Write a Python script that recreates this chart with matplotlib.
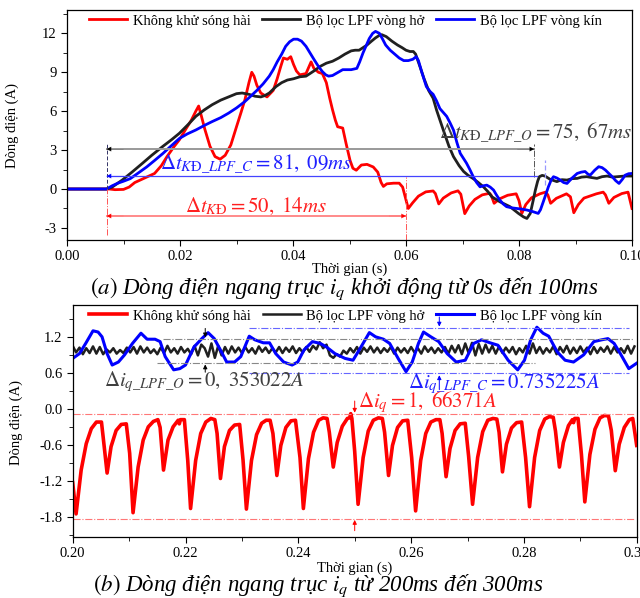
import matplotlib
matplotlib.use("Agg")
import matplotlib.pyplot as plt
import matplotlib.ticker as mticker
import numpy as np

plt.rcParams.update({
    "font.family": "serif",
    "font.serif": ["Liberation Serif", "DejaVu Serif"],
    "mathtext.fontset": "stix",
    "axes.unicode_minus": False,
    "font.size": 10,
    "axes.linewidth": 0.9,
    "xtick.direction": "out",
    "ytick.direction": "out",
    "xtick.major.size": 4,
    "ytick.major.size": 4,
    "xtick.minor.size": 3,
    "ytick.minor.size": 3,
    "xtick.minor.visible": True,
    "ytick.minor.visible": True,
})

C_RED = "#ff0000"
C_BLK = "#202020"
C_BLU = "#0000ff"

LABELS = ["Không khử sóng hài", "Bộ lọc LPF vòng hở", "Bộ lọc LPF vòng kín"]

# ── (a) start-up, 0 .. 100 ms ───────────────────────────────────────────
red_a = [
    (0.0000, 0.00), (0.0075, 0.00), (0.0085, -0.05), (0.0100, -0.03), (0.0110, 0.15),
    (0.0120, 0.50), (0.0135, 0.80), (0.0155, 1.20), (0.0167, 1.80), (0.0177, 2.50),
    (0.0190, 3.30), (0.0199, 3.80), (0.0210, 4.60), (0.0220, 5.30), (0.0228, 6.00),
    (0.0233, 6.40), (0.0238, 5.60), (0.0244, 4.60), (0.0253, 3.30), (0.0262, 2.50),
    (0.0271, 2.30), (0.0280, 2.60), (0.0290, 3.40), (0.0300, 4.80), (0.0308, 5.90),
    (0.0315, 6.90), (0.0322, 8.20), (0.0327, 9.00), (0.0331, 8.70), (0.0336, 8.00),
    (0.0343, 7.40), (0.0354, 7.10), (0.0365, 7.60), (0.0372, 8.50), (0.0378, 9.40),
    (0.0383, 10.10), (0.0390, 10.00), (0.0396, 10.20), (0.0401, 9.60), (0.0406, 9.10),
    (0.0412, 8.80), (0.0423, 8.90), (0.0428, 9.40), (0.0432, 9.80), (0.0437, 9.30),
    (0.0445, 9.00), (0.0452, 8.90), (0.0459, 8.20), (0.0465, 7.00), (0.0470, 6.10),
    (0.0475, 5.30), (0.0479, 4.80), (0.0488, 4.70), (0.0494, 3.50), (0.0501, 2.20),
    (0.0506, 1.60), (0.0512, 1.45), (0.0521, 1.85), (0.0531, 1.90), (0.0542, 1.70),
    (0.0550, 1.30), (0.0556, 0.50), (0.0560, 0.20), (0.0566, 0.40), (0.0578, 0.45),
    (0.0588, 0.45), (0.0594, 0.15), (0.0604, -1.50), (0.0612, -1.05), (0.0622, -0.55),
    (0.0635, -0.22), (0.0648, -0.15), (0.0652, -0.35), (0.0658, -1.15), (0.0666, -0.70),
    (0.0680, -0.30), (0.0692, -0.14), (0.0697, -0.40), (0.0704, -1.90), (0.0712, -1.30),
    (0.0722, -0.80), (0.0735, -0.45), (0.0748, -0.33), (0.0751, -0.50), (0.0756, -1.10),
    (0.0766, -0.75), (0.0780, -0.48), (0.0795, -0.37), (0.0800, -0.90), (0.0805, -1.88),
    (0.0812, -1.20), (0.0822, -0.68), (0.0837, -0.37), (0.0847, -0.24), (0.0851, -0.45),
    (0.0856, -1.10), (0.0866, -0.72), (0.0884, -0.37), (0.0891, -0.60), (0.0897, -1.83),
    (0.0905, -1.20), (0.0915, -0.70), (0.0937, -0.37), (0.0949, -0.24), (0.0953, -0.45),
    (0.0959, -1.10), (0.0968, -0.65), (0.0982, -0.35), (0.0993, -0.24), (0.1000, -1.50),
]

black_a = [
    (0.0000, 0.00), (0.0070, 0.00), (0.0080, 0.15), (0.0098, 0.70), (0.0115, 1.30),
    (0.0134, 2.00), (0.0150, 2.60), (0.0170, 3.30), (0.0185, 3.80), (0.0199, 4.30),
    (0.0215, 5.00), (0.0228, 5.60), (0.0243, 6.10), (0.0257, 6.50), (0.0272, 6.85),
    (0.0286, 7.10), (0.0300, 7.35), (0.0310, 7.40), (0.0322, 7.30), (0.0333, 7.15),
    (0.0343, 7.10), (0.0350, 7.20), (0.0358, 7.40), (0.0370, 7.90), (0.0380, 8.20),
    (0.0390, 8.40), (0.0401, 8.50), (0.0412, 8.65), (0.0423, 8.70), (0.0430, 8.90),
    (0.0437, 9.10), (0.0448, 9.45), (0.0459, 9.70), (0.0470, 9.85), (0.0481, 10.10),
    (0.0492, 10.40), (0.0503, 10.65), (0.0510, 10.70), (0.0517, 10.70), (0.0524, 10.90),
    (0.0531, 11.10), (0.0539, 11.40), (0.0546, 11.65), (0.0553, 11.85), (0.0557, 11.90),
    (0.0565, 11.75), (0.0575, 11.40), (0.0585, 11.10), (0.0593, 10.90), (0.0600, 10.70),
    (0.0607, 10.60), (0.0613, 10.60), (0.0617, 10.40), (0.0625, 9.40), (0.0632, 8.50),
    (0.0640, 7.60), (0.0648, 7.00), (0.0654, 6.10), (0.0666, 4.55), (0.0676, 3.30),
    (0.0684, 2.50), (0.0694, 1.80), (0.0702, 1.35), (0.0710, 1.05), (0.0719, 0.80),
    (0.0728, 0.50), (0.0737, 0.17), (0.0745, -0.20), (0.0752, -0.60), (0.0766, -0.98),
    (0.0784, -1.36), (0.0799, -1.88), (0.0808, -2.15), (0.0814, -2.27), (0.0820, -1.88),
    (0.0825, -0.90), (0.0829, -0.08), (0.0833, 0.60), (0.0836, 0.95), (0.0841, 1.05),
    (0.0846, 1.00), (0.0855, 0.75), (0.0867, 0.57), (0.0876, 0.72), (0.0885, 0.69),
    (0.0894, 0.80), (0.0903, 0.82), (0.0911, 0.92), (0.0920, 0.95), (0.0929, 0.88),
    (0.0938, 0.82), (0.0947, 0.95), (0.0956, 1.00), (0.0965, 0.92), (0.0974, 0.95),
    (0.0987, 1.00), (0.1000, 1.00),
]

blue_a = [
    (0.0000, 0.00), (0.0070, 0.00), (0.0080, 0.25), (0.0090, 0.45), (0.0100, 0.60),
    (0.0112, 0.80), (0.0125, 1.20), (0.0141, 1.70), (0.0155, 2.20), (0.0170, 2.75),
    (0.0185, 3.35), (0.0199, 3.90), (0.0213, 4.25), (0.0228, 4.55), (0.0243, 4.90),
    (0.0257, 5.20), (0.0272, 5.50), (0.0286, 5.85), (0.0300, 6.25), (0.0315, 6.75),
    (0.0325, 7.15), (0.0336, 7.60), (0.0347, 8.10), (0.0358, 8.70), (0.0365, 9.20),
    (0.0372, 9.80), (0.0380, 10.40), (0.0387, 11.00), (0.0394, 11.35), (0.0401, 11.55),
    (0.0408, 11.55), (0.0415, 11.40), (0.0423, 11.00), (0.0430, 10.50), (0.0437, 10.00),
    (0.0445, 9.45), (0.0452, 9.05), (0.0458, 8.80), (0.0463, 8.70), (0.0470, 8.75),
    (0.0480, 9.00), (0.0488, 9.20), (0.0496, 9.20), (0.0503, 9.20), (0.0513, 9.30),
    (0.0518, 9.80), (0.0524, 10.50), (0.0530, 11.10), (0.0535, 11.60), (0.0541, 12.00),
    (0.0546, 12.15), (0.0553, 12.00), (0.0558, 11.60), (0.0564, 11.10), (0.0572, 10.70),
    (0.0580, 10.40), (0.0588, 10.10), (0.0596, 9.90), (0.0604, 9.90), (0.0612, 10.00),
    (0.0618, 10.20), (0.0622, 9.90), (0.0628, 9.00), (0.0636, 7.90), (0.0643, 7.50),
    (0.0648, 7.30), (0.0654, 6.80), (0.0660, 6.20), (0.0666, 5.90), (0.0672, 5.60),
    (0.0678, 5.10), (0.0684, 4.55), (0.0690, 3.60), (0.0696, 2.75), (0.0707, 2.00),
    (0.0713, 1.50), (0.0719, 0.95), (0.0725, 0.50), (0.0731, 0.17), (0.0737, 0.25),
    (0.0743, 0.30), (0.0749, 0.15), (0.0755, -0.08), (0.0760, -0.45), (0.0766, -0.85),
    (0.0772, -1.15), (0.0778, -1.36), (0.0787, -1.45), (0.0796, -1.50), (0.0805, -1.55),
    (0.0814, -1.62), (0.0825, -1.75), (0.0834, -1.88), (0.0838, -1.60), (0.0843, -0.98),
    (0.0848, -0.35), (0.0852, 0.17), (0.0857, 0.70), (0.0861, 0.95), (0.0867, 0.85),
    (0.0873, 0.69), (0.0879, 0.50), (0.0885, 0.43), (0.0894, 0.85), (0.0903, 1.20),
    (0.0910, 1.30), (0.0917, 1.35), (0.0922, 1.15), (0.0926, 1.07), (0.0934, 1.45),
    (0.0941, 1.72), (0.0947, 1.65), (0.0953, 1.46), (0.0959, 1.20), (0.0965, 0.95),
    (0.0971, 0.65), (0.0977, 0.43), (0.0983, 0.75), (0.0988, 1.07), (0.0994, 1.18),
    (0.1000, 1.20),
]

# annotation readings, panel (a)
T_START = 0.0070      # start of motor start-up
T_END_KD = 0.0600     # end, no harmonic suppression
T_END_O = 0.0827      # end, open-loop LPF
T_END_C = 0.0846      # end, closed-loop LPF
Y_ARROW_O, Y_ARROW_C, Y_ARROW_KD = 3.08, 1.0, -2.08

# ── (b) steady state, 200 .. 300 ms ─────────────────────────────────────
red_b = [
    (0.2000, -1.22), (0.2006, -1.74),
    (0.2015, -1.01), (0.2024, -0.57), (0.2033, -0.32), (0.2042, -0.21), (0.2051, -0.21), (0.2054, -0.46), (0.2061, -1.06),
    (0.2068, -0.62), (0.2077, -0.35), (0.2086, -0.25), (0.2095, -0.24), (0.2101, -0.73), (0.2107, -1.72),
    (0.2116, -0.96), (0.2125, -0.51), (0.2134, -0.29), (0.2143, -0.20), (0.2151, -0.17), (0.2155, -0.30), (0.2161, -1.01),
    (0.2169, -0.51), (0.2178, -0.29), (0.2187, -0.18), (0.2189, -0.24), (0.2191, -0.17), (0.2198, -0.17), (0.2204, -0.85), (0.2209, -1.65),
    (0.2218, -0.85), (0.2227, -0.40), (0.2236, -0.21), (0.2245, -0.15), (0.2252, -0.17), (0.2256, -0.40), (0.2262, -1.15),
    (0.2269, -0.62), (0.2278, -0.35), (0.2287, -0.26), (0.2296, -0.25), (0.2302, -0.84), (0.2308, -1.66),
    (0.2317, -0.85), (0.2326, -0.42), (0.2335, -0.23), (0.2343, -0.18), (0.2350, -0.18), (0.2355, -0.40), (0.2362, -1.10),
    (0.2369, -0.60), (0.2378, -0.30), (0.2387, -0.19), (0.2395, -0.18), (0.2403, -0.80), (0.2409, -1.65),
    (0.2418, -0.82), (0.2427, -0.38), (0.2436, -0.18), (0.2444, -0.14), (0.2451, -0.15), (0.2455, -0.38), (0.2462, -0.96),
    (0.2469, -0.55), (0.2478, -0.28), (0.2487, -0.15), (0.2491, -0.14), (0.2493, -0.07), (0.2495, -0.15), (0.2500, -0.70), (0.2506, -1.58),
    (0.2515, -0.80), (0.2524, -0.36), (0.2533, -0.18), (0.2542, -0.14), (0.2549, -0.15), (0.2553, -0.38), (0.2560, -1.10),
    (0.2567, -0.60), (0.2576, -0.30), (0.2585, -0.19), (0.2594, -0.18), (0.2601, -0.80), (0.2608, -1.69),
    (0.2617, -0.85), (0.2626, -0.40), (0.2635, -0.21), (0.2644, -0.17), (0.2651, -0.17), (0.2655, -0.40), (0.2662, -1.12),
    (0.2669, -0.65), (0.2678, -0.35), (0.2687, -0.24), (0.2696, -0.23), (0.2702, -0.78), (0.2709, -1.58),
    (0.2718, -0.80), (0.2727, -0.37), (0.2736, -0.18), (0.2745, -0.15), (0.2752, -0.16), (0.2756, -0.38), (0.2762, -1.04),
    (0.2769, -0.58), (0.2778, -0.31), (0.2787, -0.22), (0.2796, -0.21), (0.2803, -0.80), (0.2810, -1.62),
    (0.2819, -0.80), (0.2828, -0.35), (0.2837, -0.16), (0.2845, -0.12), (0.2852, -0.13), (0.2856, -0.36), (0.2863, -0.96),
    (0.2870, -0.55), (0.2879, -0.27), (0.2886, -0.17), (0.2888, -0.22), (0.2890, -0.15), (0.2896, -0.15), (0.2902, -0.75), (0.2908, -1.54),
    (0.2917, -0.75), (0.2926, -0.33), (0.2935, -0.14), (0.2943, -0.10), (0.2950, -0.11), (0.2955, -0.35), (0.2962, -1.02),
    (0.2969, -0.58), (0.2978, -0.30), (0.2987, -0.17), (0.2993, -0.15), (0.3000, -0.60),
]

# open-loop LPF: ripple sampled every 0.6 ms from 0.200 s
black_b_t0, black_b_dt = 0.2000, 0.0006
black_b = [
    1.06, 0.95, 1.03, 0.92, 1.02, 0.94, 1.05, 0.93, 1.04, 0.92,
    1.00, 0.95, 1.02, 0.93, 0.99, 0.94, 1.03, 0.95, 1.04, 0.93,
    1.05, 0.95, 1.03, 0.94, 1.00, 0.92, 1.03, 0.94, 1.06, 0.95,
    1.02, 0.93, 1.04, 0.95, 1.01, 0.92, 1.06, 0.90, 1.08, 1.02,
    0.88, 1.10, 0.86, 1.06, 0.90, 1.04, 0.93, 1.05, 0.95, 1.03,
    0.94, 1.04, 0.95, 1.02, 0.93, 1.05, 0.96, 1.03, 0.94, 1.02,
    0.95, 1.04, 0.94, 1.03, 0.96, 1.05, 0.94, 1.02, 0.95, 1.04,
    0.96, 1.06, 1.00, 1.12, 1.02, 1.08, 0.90, 0.86, 0.92, 0.88,
    0.98, 0.93, 1.02, 0.95, 1.04, 0.93, 1.03, 0.96, 1.05, 0.95,
    1.03, 0.94, 1.02, 0.96, 1.04, 0.93, 1.03, 0.95, 1.02, 0.94,
    1.04, 0.95, 1.02, 0.93, 1.05, 0.96, 1.03, 0.94, 1.02, 0.95,
    1.04, 0.93, 1.06, 0.95, 1.07, 0.92, 1.10, 0.94, 1.11, 0.90,
    1.09, 0.93, 1.08, 0.95, 1.06, 0.93, 1.05, 0.94, 1.03, 0.95,
    1.04, 0.92, 1.02, 0.95, 1.06, 0.93, 1.10, 0.94, 1.04, 0.93,
    1.02, 0.95, 1.05, 0.92, 1.04, 0.95, 1.06, 0.93, 1.03, 0.94,
    1.05, 0.95, 1.03, 0.92, 1.04, 0.94, 1.03, 0.96, 1.05, 0.93,
    1.04, 0.95, 1.02, 0.94, 1.06, 0.93, 1.05,
]

blue_b = [
    (0.2000, 0.85), (0.2012, 0.93), (0.2023, 1.10), (0.2036, 1.31), (0.2045, 1.29),
    (0.2052, 1.21), (0.2061, 0.93), (0.2070, 0.74), (0.2081, 0.79), (0.2092, 0.91),
    (0.2106, 1.10), (0.2121, 1.27), (0.2132, 1.17), (0.2146, 1.17), (0.2155, 1.13),
    (0.2164, 0.88), (0.2179, 0.66), (0.2190, 0.68), (0.2200, 0.74), (0.2215, 1.04),
    (0.2229, 1.18), (0.2240, 1.28), (0.2251, 1.18), (0.2262, 0.99), (0.2273, 0.79),
    (0.2287, 0.79), (0.2298, 0.88), (0.2313, 1.22), (0.2323, 1.16), (0.2338, 1.11),
    (0.2349, 1.11), (0.2360, 0.93), (0.2374, 0.79), (0.2389, 0.74), (0.2399, 0.79),
    (0.2410, 0.99), (0.2425, 1.13), (0.2439, 1.10), (0.2450, 1.04), (0.2465, 0.93),
    (0.2483, 0.85), (0.2497, 0.82), (0.2508, 0.99), (0.2526, 1.28), (0.2537, 1.21),
    (0.2551, 1.17), (0.2562, 1.10), (0.2577, 0.85), (0.2591, 0.63), (0.2602, 0.79),
    (0.2613, 1.10), (0.2622, 1.29), (0.2635, 1.21), (0.2649, 1.13), (0.2664, 0.93),
    (0.2680, 0.79), (0.2696, 0.82), (0.2711, 1.10), (0.2725, 1.16), (0.2740, 1.11),
    (0.2754, 1.07), (0.2772, 0.82), (0.2789, 0.66), (0.2801, 0.82), (0.2812, 1.16),
    (0.2823, 1.37), (0.2834, 1.27), (0.2844, 1.22), (0.2859, 0.96), (0.2873, 0.82),
    (0.2888, 0.79), (0.2906, 0.91), (0.2924, 1.13), (0.2938, 1.16), (0.2949, 1.18),
    (0.2960, 1.10), (0.2971, 0.93), (0.2986, 0.68), (0.3000, 0.77),
]

# ripple band readings, panel (b)
BAND_O = (0.78, 1.17)       # open-loop LPF min / max
BAND_C = (0.60, 1.35)       # closed-loop LPF min / max
BAND_KD = (-1.82, -0.075)   # no suppression min / max
T_MARK_O, T_MARK_C, T_MARK_KD = 0.2235, 0.2650, 0.2500


def style_axes(ax, xlim, ylim, xmaj, ymaj, xfmt, yfmt):
    ax.set_xlim(*xlim)
    ax.set_ylim(*ylim)
    ax.xaxis.set_major_locator(mticker.MultipleLocator(xmaj))
    ax.xaxis.set_minor_locator(mticker.MultipleLocator(xmaj / 2))
    ax.yaxis.set_major_locator(mticker.MultipleLocator(ymaj))
    ax.yaxis.set_minor_locator(mticker.MultipleLocator(ymaj / 2))
    ax.xaxis.set_major_formatter(mticker.FormatStrFormatter(xfmt))
    ax.yaxis.set_major_formatter(mticker.FormatStrFormatter(yfmt))
    ax.tick_params(labelsize=10.5)
    ax.set_xlabel("Thời gian (s)", fontsize=10.5)
    ax.set_ylabel("Dòng điện (A)", fontsize=10.5)


def arrow(ax, x0, y0, x1, y1, color, style="-|>", lw=1.0, ms=8):
    ax.annotate("", xy=(x1, y1), xytext=(x0, y0),
                arrowprops=dict(arrowstyle=style, color=color, lw=lw,
                                mutation_scale=ms, shrinkA=0, shrinkB=0))


fig = plt.figure(figsize=(6.4, 5.98), dpi=100)
ax1 = fig.add_axes([67 / 640, 1 - 240 / 598, 565 / 640, 230 / 598])
ax2 = fig.add_axes([72.7 / 640, 1 - 536.7 / 598, 564 / 640, 231.7 / 598])

# ── panel (a) ───────────────────────────────────────────────────────────
for data, c, lab in [(red_a, C_RED, LABELS[0]), (black_a, C_BLK, LABELS[1]),
                     (blue_a, C_BLU, LABELS[2])]:
    t, v = zip(*data)
    ax1.plot(t, v, color=c, lw=2.0, label=lab, solid_joinstyle="round")

style_axes(ax1, (0, 0.1), (-3.93, 13.8), 0.02, 3, "%.2f", "%g")
ax1.xaxis.set_label_coords(0.5, -0.1)
ax1.yaxis.set_label_coords(-0.085, 0.5)

# start / end markers
ax1.plot([T_START, T_START], [0, 3.5], color="#333366", lw=0.7, ls=(0, (4, 2)))
ax1.plot([T_START, T_START], [-3.55, 0], color="#ff5555", lw=0.7, ls="-.")
ax1.plot([T_END_O, T_END_O], [0.95, 3.5], color="#555555", lw=0.7, ls="-.")
ax1.plot([T_END_C, T_END_C], [0.3, 2.25], color="#9999ff", lw=0.9, ls=(0, (4, 2)))
ax1.plot([T_END_KD, T_END_KD], [-3.93, 0.95], color="#ff5555", lw=0.7, ls="-.")

ax1.plot([T_START, T_END_O], [Y_ARROW_O, Y_ARROW_O], color="#999999", lw=1.4)
arrow(ax1, T_START + 0.003, Y_ARROW_O, T_START, Y_ARROW_O, "black", lw=0.1)
arrow(ax1, T_END_O - 0.003, Y_ARROW_O, T_END_O, Y_ARROW_O, "black", lw=0.1)
ax1.plot([T_START, 0.0831], [Y_ARROW_C, Y_ARROW_C], color="#4444ff", lw=0.9)
arrow(ax1, T_START + 0.003, Y_ARROW_C, T_START, Y_ARROW_C, C_BLU, lw=0.1)
ax1.plot([T_START, T_END_KD], [Y_ARROW_KD, Y_ARROW_KD], color="#ff7777", lw=1.2)
arrow(ax1, T_START + 0.003, Y_ARROW_KD, T_START, Y_ARROW_KD, C_RED, lw=0.1)
arrow(ax1, T_END_KD - 0.003, Y_ARROW_KD, T_END_KD, Y_ARROW_KD, C_RED, lw=0.1)

ax1.text(0.1, 4.35, r"$\Delta t_{K\mathrm{Đ}\_LPF\_O}=75,\ 67ms$", color="#404040",
         fontsize=15, ha="right", va="center")
ax1.text(0.0335, 1.98, r"$\Delta t_{K\mathrm{Đ}\_LPF\_C}=81,\ 09ms$", color="#2020ff",
         fontsize=15, ha="center", va="center")
ax1.text(0.0335, -1.36, r"$\Delta t_{K\mathrm{Đ}}=50,\ 14ms$", color="#ff2020",
         fontsize=15, ha="center", va="center")

ax1.legend(ncol=3, loc="upper center", bbox_to_anchor=(0.493, 1.0), frameon=False,
           fontsize=10.5, handlelength=2.6, columnspacing=0.8, handletextpad=0.4,
           borderpad=0.1, borderaxespad=0.2)

# ── panel (b) ───────────────────────────────────────────────────────────
t, v = zip(*red_b)
ax2.plot(t, v, color=C_RED, lw=2.6, label=LABELS[0], solid_joinstyle="round")
t_blk = black_b_t0 + black_b_dt * np.arange(len(black_b))
ax2.plot(t_blk, black_b, color=C_BLK, lw=1.8, label=LABELS[1])
t, v = zip(*blue_b)
ax2.plot(t, v, color=C_BLU, lw=2.2, label=LABELS[2], solid_joinstyle="round")

style_axes(ax2, (0.2, 0.3), (-2.12, 1.74), 0.02, 0.6, "%.2f", "%.1f")
ax2.xaxis.set_label_coords(0.5, -0.105)
ax2.yaxis.set_label_coords(-0.088, 0.495)

ax2.plot([0.2160, 0.2995], [BAND_O[1]] * 2, color="#888888", lw=0.8, ls="-.")
ax2.plot([0.2149, 0.2819], [BAND_O[0]] * 2, color="#888888", lw=0.8, ls="-.")
ax2.plot([0.2313, 0.2986], [BAND_C[1]] * 2, color="#6666ff", lw=0.8, ls="-.")
ax2.plot([0.2313, 0.2986], [BAND_C[0]] * 2, color="#6666ff", lw=0.8, ls="-.")
ax2.plot([0.2000, 0.2997], [BAND_KD[1]] * 2, color="#ff7777", lw=0.8, ls="-.")
ax2.plot([0.2000, 0.2997], [BAND_KD[0]] * 2, color="#ff7777", lw=0.8, ls="-.")

arrow(ax2, T_MARK_O, 1.35, T_MARK_O, BAND_O[1] + 0.03, "black", lw=0.7, ms=6)
arrow(ax2, T_MARK_O, 0.62, T_MARK_O, BAND_O[0] - 0.03, "black", lw=0.7, ms=6)
arrow(ax2, T_MARK_C, 1.54, T_MARK_C, BAND_C[1] + 0.03, C_BLU, lw=0.7, ms=6)
arrow(ax2, T_MARK_C, 0.33, T_MARK_C, BAND_C[0] - 0.03, C_BLU, lw=0.7, ms=6)
arrow(ax2, T_MARK_KD, 0.14, T_MARK_KD, BAND_KD[1] + 0.02, C_RED, lw=0.7, ms=6)
arrow(ax2, T_MARK_KD, -2.02, T_MARK_KD, BAND_KD[0] - 0.02, C_RED, lw=0.7, ms=6)

ax2.text(0.2233, 0.46, r"$\Delta i_{q\_LPF\_O}=0,\ 353022A$", color="#404040",
         fontsize=15, ha="center", va="center")
ax2.text(0.2765, 0.43, r"$\Delta i_{q\_LPF\_C}=0.735225A$", color="#2020ff",
         fontsize=15, ha="center", va="center")
ax2.text(0.2629, 0.12, r"$\Delta i_{q}=1,\ 66371A$", color="#ff2020",
         fontsize=15, ha="center", va="center")

ax2.legend(ncol=3, loc="upper center", bbox_to_anchor=(0.484, 1.0), frameon=False,
           fontsize=10.5, handlelength=2.6, columnspacing=0.8, handletextpad=0.4,
           borderpad=0.1, borderaxespad=0.2)

# captions
fig.text(344 / 640, 1 - 294 / 598,
         r"$(a)$ Dòng điện ngang trục $i_q$ khởi động từ 0s đến 100ms",
         fontsize=16.5, style="italic", ha="center", va="baseline")
fig.text(318 / 640, 1 - 591 / 598,
         r"$(b)$ Dòng điện ngang trục $i_q$ từ 200ms đến 300ms",
         fontsize=16.5, style="italic", ha="center", va="baseline")

fig.savefig("out.png", dpi=100)
